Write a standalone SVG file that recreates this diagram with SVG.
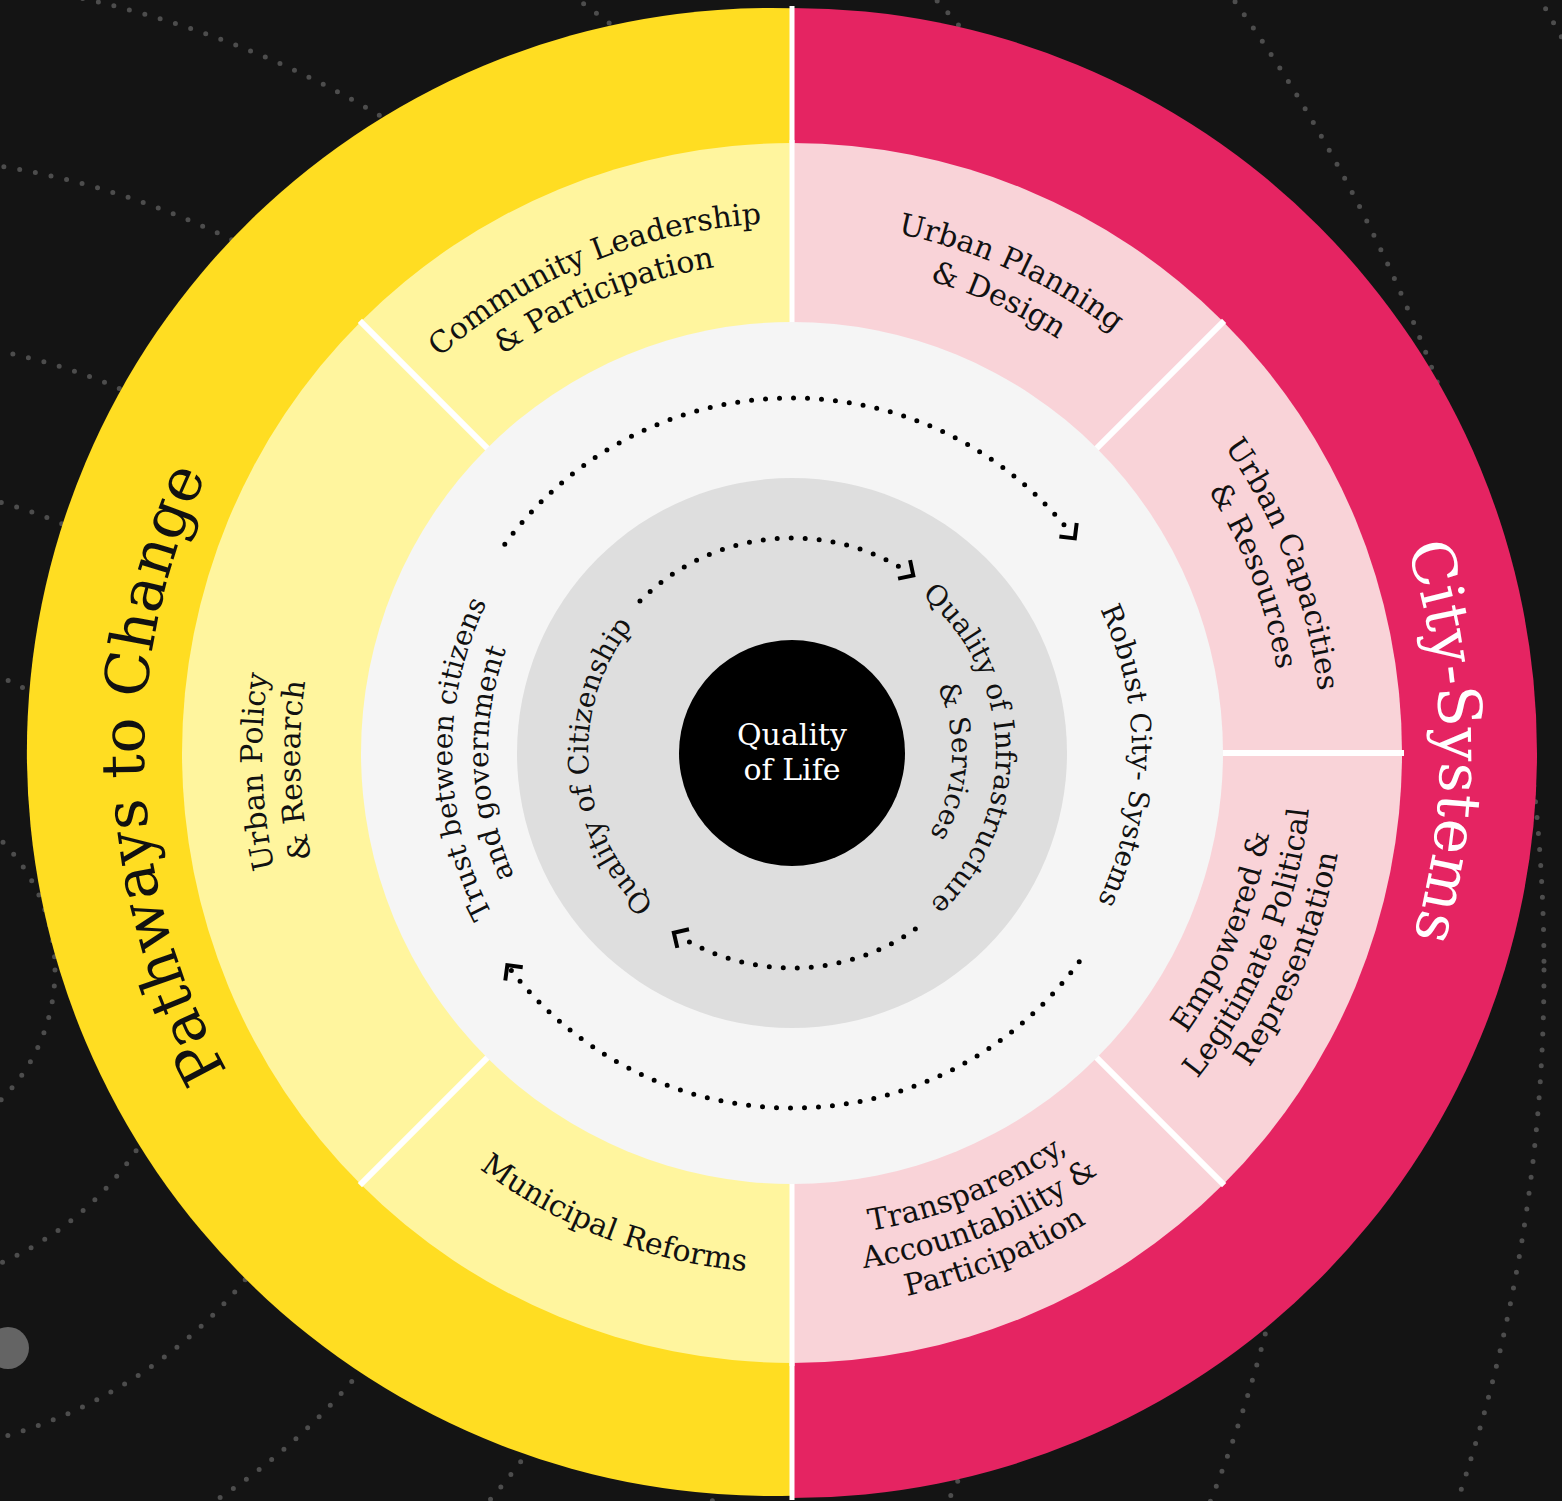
<svg xmlns="http://www.w3.org/2000/svg" xmlns:xlink="http://www.w3.org/1999/xlink" width="1562" height="1501" viewBox="0 0 1562 1501">
<style>
.t{font-family:"DejaVu Serif","Liberation Serif",serif;fill:#111}
.sec{font-size:30px}
.inn{font-size:28px}
.title{font-size:60px}
.orbit{fill:none;stroke:#4d4d4d;stroke-width:5;stroke-linecap:round;stroke-dasharray:0 16}
.dots{fill:none;stroke:#000;stroke-width:5;stroke-linecap:round;stroke-dasharray:0 14}
.div{stroke:#fff;stroke-width:6}
</style>
<defs>
<path id="P530" d="M333.01 488 A530 530 0 0 1 1250.99 488"/>
<path id="P492" d="M365.91 507 A492 492 0 0 1 1218.09 507"/>
<path id="P648" d="M230.81 429 A648 648 0 0 1 1353.19 429"/>
<path id="P340" d="M497.55 583 A340 340 0 0 1 1086.45 583"/>
<path id="P304" d="M528.73 601 A304 304 0 0 1 1055.27 601"/>
<path id="P204" d="M591.10 717.58 A204 204 0 0 1 992.90 717.58"/>
<path id="P160" d="M634.43 725.22 A160 160 0 0 1 949.57 725.22"/>
<path id="B484" d="M372.84 995 A484 484 0 0 0 1211.16 995"/>
<path id="B520" d="M341.66 1013 A520 520 0 0 0 1242.34 1013"/>
<path id="B555" d="M311.35 1030.5 A555 555 0 0 0 1272.65 1030.5"/>
<marker id="chev" markerUnits="userSpaceOnUse" markerWidth="40" markerHeight="40" viewBox="-20 -20 40 40" refX="0" refY="0" orient="auto" overflow="visible">
<path d="M-6 -11 L5 0 L-6 11" fill="none" stroke="#000" stroke-width="4"/>
</marker>
</defs>
<rect width="1562" height="1501" fill="#141414"/>
<g id="background">
<circle class="orbit" cx="-128" cy="970" r="183"/>
<circle class="orbit" cx="-128" cy="970" r="320"/>
<circle class="orbit" cx="-128" cy="970" r="485"/>
<circle class="orbit" cx="-128" cy="970" r="632"/>
<circle class="orbit" cx="-128" cy="970" r="814"/>
<circle class="orbit" cx="-128" cy="970" r="994"/>
<circle class="orbit" cx="-128" cy="970" r="1200"/>
<circle class="orbit" cx="-128" cy="970" r="1440"/>
<circle class="orbit" cx="-128" cy="970" r="1672"/>
<circle class="orbit" cx="-128" cy="970" r="1930"/>
<circle cx="8" cy="1348" r="21" fill="#646464"/>
</g>
<g id="outer-ring">
<path d="M792 8.3 A744 744 0 1 0 792 1495.7 Z" fill="#FFDD22"/>
<path d="M792 8 A745 745 0 0 1 792 1498 Z" fill="#E52462"/>
<rect x="789.5" y="6" width="5" height="320" fill="#fff"/>
<rect x="789.5" y="1180" width="5" height="320" fill="#fff"/>
</g>
<g id="pathways-to-change">
<text class="t title" transform="rotate(-92 792 753)" text-anchor="middle"><textPath href="#P648" startOffset="50%">Pathways to Change</textPath></text>
</g>
<g id="city-systems">
<text class="t title" style="fill:#fff" transform="rotate(89 792 753)" text-anchor="middle"><textPath href="#P648" startOffset="50%">City-Systems</textPath></text>
</g>
<g id="sector-ring">
<path d="M792 143 A610 610 0 0 0 792 1363 Z" fill="#FFF59E"/>
<path d="M792 143 A610 610 0 0 1 792 1363 Z" fill="#F9D3D8"/>
<line class="div" x1="489.4" y1="450.4" x2="359.9" y2="320.9"/>
<line class="div" x1="489.4" y1="1055.6" x2="359.9" y2="1185.1"/>
<line class="div" x1="1094.6" y1="450.4" x2="1224.1" y2="320.9"/>
<line class="div" x1="1094.6" y1="1055.6" x2="1224.1" y2="1185.1"/>
<line class="div" x1="1220" y1="753" x2="1404" y2="753"/>
<rect x="789.5" y="140" width="5" height="190" fill="#fff"/>
<rect x="789.5" y="1176" width="5" height="190" fill="#fff"/>
</g>
<g id="community-leadership">
<text class="t sec" transform="rotate(-22.5 792 753)" text-anchor="middle"><textPath href="#P530" startOffset="50%">Community Leadership</textPath></text>
<text class="t sec" transform="rotate(-22.5 792 753)" text-anchor="middle"><textPath href="#P492" startOffset="50%">&amp; Participation</textPath></text>
</g>
<g id="urban-planning">
<text class="t sec" transform="rotate(24.5 792 753)" text-anchor="middle"><textPath href="#P530" startOffset="50%">Urban Planning</textPath></text>
<text class="t sec" transform="rotate(24.5 792 753)" text-anchor="middle"><textPath href="#P492" startOffset="50%">&amp; Design</textPath></text>
</g>
<g id="urban-capacities">
<text class="t sec" transform="rotate(69 792 753)" text-anchor="middle"><textPath href="#P530" startOffset="50%">Urban Capacities</textPath></text>
<text class="t sec" transform="rotate(69 792 753)" text-anchor="middle"><textPath href="#P492" startOffset="50%">&amp; Resources</textPath></text>
</g>
<g id="empowered">
<text class="t sec" transform="rotate(-67.5 792 753)" text-anchor="middle"><textPath href="#B484" startOffset="50%">Empowered &amp;</textPath></text>
<text class="t sec" transform="rotate(-67.5 792 753)" text-anchor="middle"><textPath href="#B520" startOffset="50%">Legitimate Political</textPath></text>
<text class="t sec" transform="rotate(-67.5 792 753)" text-anchor="middle"><textPath href="#B555" startOffset="50%">Representation</textPath></text>
</g>
<g id="transparency">
<text class="t sec" transform="rotate(-22 792 753)" text-anchor="middle"><textPath href="#B484" startOffset="50%">Transparency,</textPath></text>
<text class="t sec" transform="rotate(-22 792 753)" text-anchor="middle"><textPath href="#B520" startOffset="50%">Accountability &amp;</textPath></text>
<text class="t sec" transform="rotate(-22 792 753)" text-anchor="middle"><textPath href="#B555" startOffset="50%">Participation</textPath></text>
</g>
<g id="municipal-reforms">
<text class="t sec" transform="rotate(21 792 753)" text-anchor="middle"><textPath href="#B520" startOffset="50%">Municipal Reforms</textPath></text>
</g>
<g id="urban-policy">
<text class="t sec" transform="rotate(-92 792 753)" text-anchor="middle"><textPath href="#P530" startOffset="50%">Urban Policy</textPath></text>
<text class="t sec" transform="rotate(-92 792 753)" text-anchor="middle"><textPath href="#P492" startOffset="50%">&amp; Research</textPath></text>
</g>
<g id="outcomes-ring">
<circle cx="792" cy="753" r="431" fill="#F5F5F5"/>
<text class="t inn" transform="rotate(-91 792 753)" text-anchor="middle"><textPath href="#P340" startOffset="50%">Trust between citizens</textPath></text>
<text class="t inn" transform="rotate(-92 792 753)" text-anchor="middle"><textPath href="#P304" startOffset="50%">and government</textPath></text>
<text class="t inn" transform="rotate(90.5 792 753)" text-anchor="middle"><textPath href="#P340" startOffset="50%">Robust City- Systems</textPath></text>
</g>
<g id="quality-ring">
<circle cx="792" cy="753" r="275" fill="#DEDEDE"/>
<text class="t inn" transform="rotate(-94.5 792 753)" text-anchor="middle"><textPath href="#P204" startOffset="50%">Quality of Citizenship</textPath></text>
<text class="t inn" transform="rotate(88.5 792 753)" text-anchor="middle"><textPath href="#P204" startOffset="50%">Quality of Infrastructure</textPath></text>
<text class="t inn" transform="rotate(93 792 753)" text-anchor="middle"><textPath href="#P160" startOffset="50%">&amp; Services</textPath></text>
</g>
<g id="connectors">
<path class="dots" d="M504.80 544.34 A355 355 0 0 1 1071.74 534.44" marker-end="url(#chev)"/>
<path class="dots" d="M1079.20 961.66 A355 355 0 0 1 510.36 969.11" marker-end="url(#chev)"/>
<path class="dots" d="M639.97 600.97 A215 215 0 0 1 909.10 572.69" marker-end="url(#chev)"/>
<path class="dots" d="M915.32 929.12 A215 215 0 0 1 678.07 935.33" marker-end="url(#chev)"/>
</g>
<g id="quality-of-life">
<circle cx="792" cy="753" r="113" fill="#000"/>
<text class="t" style="fill:#fff;font-size:30px" x="792" y="745" text-anchor="middle">Quality</text>
<text class="t" style="fill:#fff;font-size:30px" x="792" y="780" text-anchor="middle">of Life</text>
</g>
</svg>
